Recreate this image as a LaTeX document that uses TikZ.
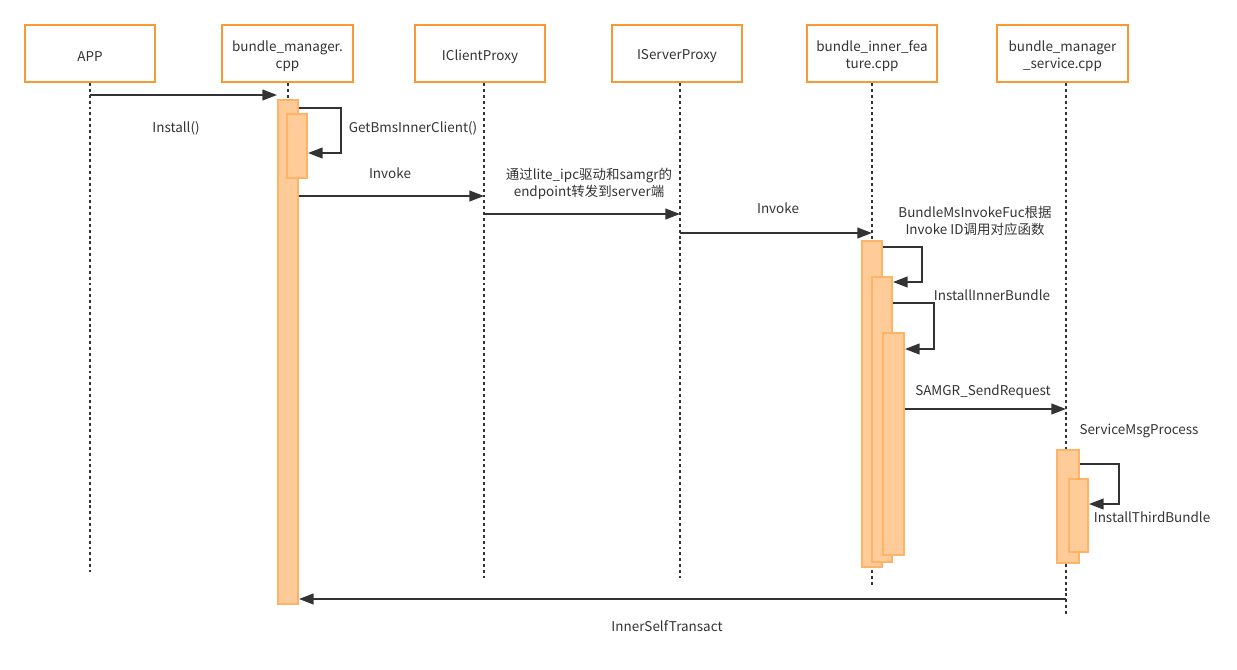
\documentclass[tikz,border=0pt]{standalone}
\usepackage{fontspec}
\setmainfont{Noto Sans CJK SC}
\usetikzlibrary{arrows.meta,fit}
\definecolor{boxorange}{HTML}{F79A36}
\definecolor{barfill}{HTML}{FFCC99}
\definecolor{barline}{HTML}{FFB366}
\definecolor{ink}{HTML}{333333}
\definecolor{txt}{HTML}{333333}
\tikzset{
  actor/.style={draw=boxorange, line width=1.6pt, fill=white, inner sep=0pt},
  actbar/.style={draw=barline, fill=barfill, line width=1.4pt, inner sep=0pt},
  life/.style={draw=ink, line width=1.3pt, dash pattern=on 2.2pt off 2.2pt},
  msg/.style={draw=ink, line width=1.5pt, -{Triangle[length=11pt,width=8pt]}},
  lbl/.style={text=txt, font=\fontsize{10.1pt}{12.6pt}\selectfont, align=center, inner sep=0pt}
}
\begin{document}
\begin{tikzpicture}[x=0.75pt,y=-0.75pt]
\useasboundingbox (0,0) rectangle (1237,669);
% actors
\node[actor, fit={(25,25) (155,82)}] (app) {};
\node[actor, fit={(222,25) (353,82)}] (bm) {};
\node[actor, fit={(415,25) (545,82)}] (icp) {};
\node[actor, fit={(612,25) (742,82)}] (isp) {};
\node[actor, fit={(807,25) (937,82)}] (bif) {};
\node[actor, fit={(997,25) (1128,82)}] (bms) {};
\node[lbl] (appt) at ([yshift=-2.2pt]app.center) {APP};
\node[lbl] (bmt) at ([yshift=-2.2pt]bm.center) {bundle\_manager.\\cpp};
\node[lbl] (icpt) at ([yshift=-2.2pt]icp.center) {IClientProxy};
\node[lbl] (ispt) at ([yshift=-2.2pt]isp.center) {IServerProxy};
\node[lbl] (bift) at ([yshift=-2.2pt]bif.center) {bundle\_inner\_fea\\ture.cpp};
\node[lbl] (bmst) at ([yshift=-2.2pt]bms.center) {bundle\_manager\\\_service.cpp};
% lifeline ends
\coordinate (e1) at (90,572);
\coordinate (e2) at (288,600);
\coordinate (e3) at (484,578);
\coordinate (e4) at (680,578);
\coordinate (e5) at (872,585);
\coordinate (e6) at (1066,615);
\draw[life] (e1 |- app.south) -- (e1);
\draw[life] (e2 |- bm.south) -- (e2);
\draw[life] (e3 |- icp.south) -- (e3);
\draw[life] (e4 |- isp.south) -- (e4);
\draw[life] (e5 |- bif.south) -- (e5);
\draw[life] (e6 |- bms.south) -- (e6);
% activation bars
\node[actbar, fit={(278,100) (298,604)}] (b1) {};
\node[actbar, fit={(287,114) (307,178)}] (b2) {};
\node[actbar, fit={(862,241) (882,567)}] (b3) {};
\node[actbar, fit={(872,277) (892,562)}] (b4) {};
\node[actbar, fit={(883,333) (904,555)}] (b5) {};
\node[actbar, fit={(1057,450) (1079,563)}] (b6) {};
\node[actbar, fit={(1069,479) (1088,552)}] (b7) {};
% messages
\draw[msg] (e1 |- 0,95) -- (b1.west |- 0,95);
\draw[msg] (b1.east |- 0,108) -- (341,108) |- (b2.east |- 0,153);
\draw[msg] (b1.east |- 0,196) -- (e3 |- 0,196);
\draw[msg] (e3 |- 0,214) -- (e4 |- 0,214);
\draw[msg] (e4 |- 0,233) -- (e5 |- 0,233);
\draw[msg] (b3.east |- 0,247) -- (922,247) |- (b4.east |- 0,282);
\draw[msg] (b4.east |- 0,303) -- (934,303) |- (b5.east |- 0,349);
\draw[msg] (b5.east |- 0,409) -- (e6 |- 0,409);
\draw[msg] (b6.east |- 0,464) -- (1119,464) |- (b7.east |- 0,504);
\draw[msg] (e6 |- 0,599) -- (b1.east |- 0,599);
% labels
\node[lbl] (t1) at (176,128) {Install()};
\node[lbl] (t2) at (413,128) {GetBmsInnerClient()};
\node[lbl] (t3) at (390,173) {Invoke};
\node[lbl] (t4) at (589,184) {通过lite\_ipc驱动和samgr的\\endpoint转发到server端};
\node[lbl] (t5) at (778,208) {Invoke};
\node[lbl] (t6) at (975,221) {BundleMsInvokeFuc根据\\Invoke ID调用对应函数};
\node[lbl] (t7) at (992,295) {InstallInnerBundle};
\node[lbl] (t8) at (983,392) {SAMGR\_SendRequest};
\node[lbl] (t9) at (1139,431) {ServiceMsgProcess};
\node[lbl] (t10) at (1152,517) {InstallThirdBundle};
\node[lbl] (t11) at (667,626) {InnerSelfTransact};
\end{tikzpicture}
\end{document}
